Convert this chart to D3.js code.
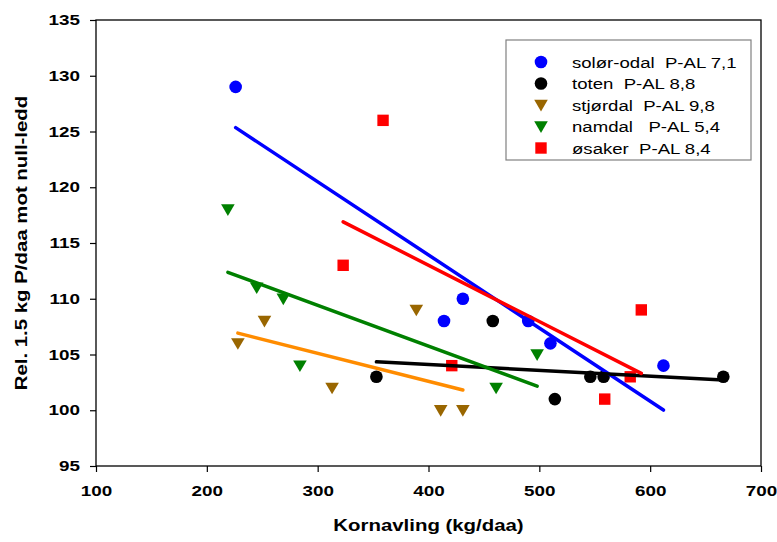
<!DOCTYPE html>
<html>
<head>
<meta charset="utf-8">
<script src="https://cdn.jsdelivr.net/npm/d3@7"></script>
<style>
  html, body { margin: 0; padding: 0; background: #fff; }
  svg { display: block; font-family: "Liberation Sans", Arial, sans-serif; }
</style>
</head>
<body>
<svg id="chart" width="777" height="542"></svg>
<script>
// Yield (kg/daa) and relative response per site
const seriesNames = ["solør-odal  P-AL 7,1", "toten  P-AL 8,8", "stjørdal  P-AL 9,8", "namdal   P-AL 5,4", "øsaker  P-AL 8,4"];
const solorX = [226, 414, 431, 490, 510, 612];
const solorY = [129, 108, 110, 108, 106, 104];
const totenX = [353, 458, 514, 546, 558, 666];
const totenY = [103, 108, 101, 103, 103, 103];
const stjordalX = [228, 252, 313, 389, 411, 431];
const stjordalY = [106, 108, 102, 109, 100, 100];
const namdalX = [219, 245, 269, 284, 461, 498];
const namdalY = [118, 111, 110, 104, 102, 105];
const osakerX = [323, 359, 421, 559, 582, 592];
const osakerY = [113, 126, 104, 101, 103, 109];

const xTicks = [100, 200, 300, 400, 500, 600, 700];
const yTicks = [95, 100, 105, 110, 115, 120, 125, 130, 135];

const markerColors = ["#0000ff", "#000000", "#996600", "#008000", "#ff0000"];
const lineColors = ["#0000ff", "#000000", "#ff8c00", "#008000", "#ff0000"];
const markerShapes = [d3.symbolCircle, d3.symbolCircle, "tri", "tri", d3.symbolSquare];

const series = [
  [solorX, solorY], [totenX, totenY], [stjordalX, stjordalY], [namdalX, namdalY], [osakerX, osakerY]
].map(([xs, ys], i) => ({
  name: seriesNames[i],
  points: xs.map((x, j) => ({ x, y: ys[j] })),
  color: markerColors[i],
  lineColor: lineColors[i],
  shape: markerShapes[i]
}));

const STRETCH = 1.24;
const svg = d3.select("#chart");
const margin = { left: 96, right: 16, top: 20, bottom: 76 };
const W = 777, H = 542;

const x = d3.scaleLinear().domain([100, 700]).range([margin.left, W - margin.right]);
const y = d3.scaleLinear().domain([95, 135]).range([H - margin.bottom, margin.top]);

// least-squares fit drawn across each series' x range
function fit(points) {
  const mx = d3.mean(points, p => p.x), my = d3.mean(points, p => p.y);
  const sxy = d3.sum(points, p => (p.x - mx) * (p.y - my));
  const sxx = d3.sum(points, p => (p.x - mx) ** 2);
  const b = sxy / sxx, a = my - b * mx;
  const [x0, x1] = d3.extent(points, p => p.x);
  return [{ x: x0, y: a + b * x0 }, { x: x1, y: a + b * x1 }];
}

function markerPath(shape) {
  if (shape === "tri") {
    // downward pointing triangle
    return "M-6.8,-5.2L6.8,-5.2L0,6.4Z";
  }
  if (shape === d3.symbolSquare) return d3.symbol().type(shape).size(130)();
  return d3.symbol().type(shape).size(125)();
}

// axes
const yAxis = d3.axisLeft(y).tickValues(yTicks).tickSize(6).tickSizeOuter(0).tickPadding(10);
const xAxis = d3.axisBottom(x).tickValues(xTicks).tickSize(6).tickSizeOuter(0).tickPadding(14);

const gy = svg.append("g").attr("transform", `translate(${margin.left},0)`).call(yAxis);
const gx = svg.append("g").attr("transform", `translate(0,${H - margin.bottom})`).call(xAxis);
[gx, gy].forEach(g => {
  g.select(".domain").remove();
  g.selectAll(".tick line").attr("stroke", "#000").attr("stroke-width", 1.2);
  g.selectAll(".tick text")
    .attr("fill", "#000")
    .style("font-size", "14.5px")
    .style("font-weight", "bold");
});
gy.selectAll(".tick text").attr("transform", "translate(-16,0) scale(1.3,1) translate(16,0)");
gx.selectAll(".tick text").attr("transform", "scale(1.3,1)");

// frame
svg.append("rect")
  .attr("x", x(100)).attr("y", y(135))
  .attr("width", x(700) - x(100)).attr("height", y(95) - y(135))
  .attr("fill", "none").attr("stroke", "#000").attr("stroke-width", 1.3);

// markers
const plot = svg.append("g");
series.forEach(s => {
  plot.append("g").selectAll("path")
    .data(s.points)
    .join("path")
    .attr("d", markerPath(s.shape))
    .attr("transform", d => `translate(${x(d.x)},${y(d.y)})`)
    .attr("fill", s.color);
});

// regression lines
const line = d3.line().x(d => x(d.x)).y(d => y(d.y));
series.forEach(s => {
  plot.append("path")
    .attr("d", line(fit(s.points)))
    .attr("fill", "none")
    .attr("stroke", s.lineColor)
    .attr("stroke-width", 3.5)
    .attr("stroke-linecap", "round");
});

// axis titles
svg.append("text")
  .attr("transform", `translate(${(x(100) + x(700)) / 2},531) scale(${STRETCH - 0.04},1)`)
  .attr("text-anchor", "middle")
  .style("font-size", "17px").style("font-weight", "bold")
  .text("Kornavling (kg/daa)");

svg.append("text")
  .attr("transform", `translate(27,${(y(95) + y(135)) / 2}) rotate(-90) scale(${STRETCH - 0.04},1)`)
  .attr("text-anchor", "middle")
  .style("font-size", "17px").style("font-weight", "bold")
  .text("Rel. 1.5 kg P/daa mot null-ledd");

// legend
const legend = svg.append("g");
legend.append("rect")
  .attr("x", 506).attr("y", 40).attr("width", 245).attr("height", 120)
  .attr("fill", "#fff").attr("stroke", "#808080").attr("stroke-width", 1.2);
const rowY = d3.scalePoint().domain(d3.range(series.length)).range([62, 148]);
series.forEach((s, i) => {
  const cy = rowY(i);
  legend.append("path")
    .attr("d", markerPath(s.shape))
    .attr("transform", `translate(541,${cy})`)
    .attr("fill", s.color);
  legend.append("text")
    .attr("transform", `translate(572,${cy + 5.5}) scale(${STRETCH},1)`)
    .attr("xml:space", "preserve")
    .style("white-space", "pre")
    .style("font-size", "15px")
    .text(s.name);
});
</script>
</body>
</html>
